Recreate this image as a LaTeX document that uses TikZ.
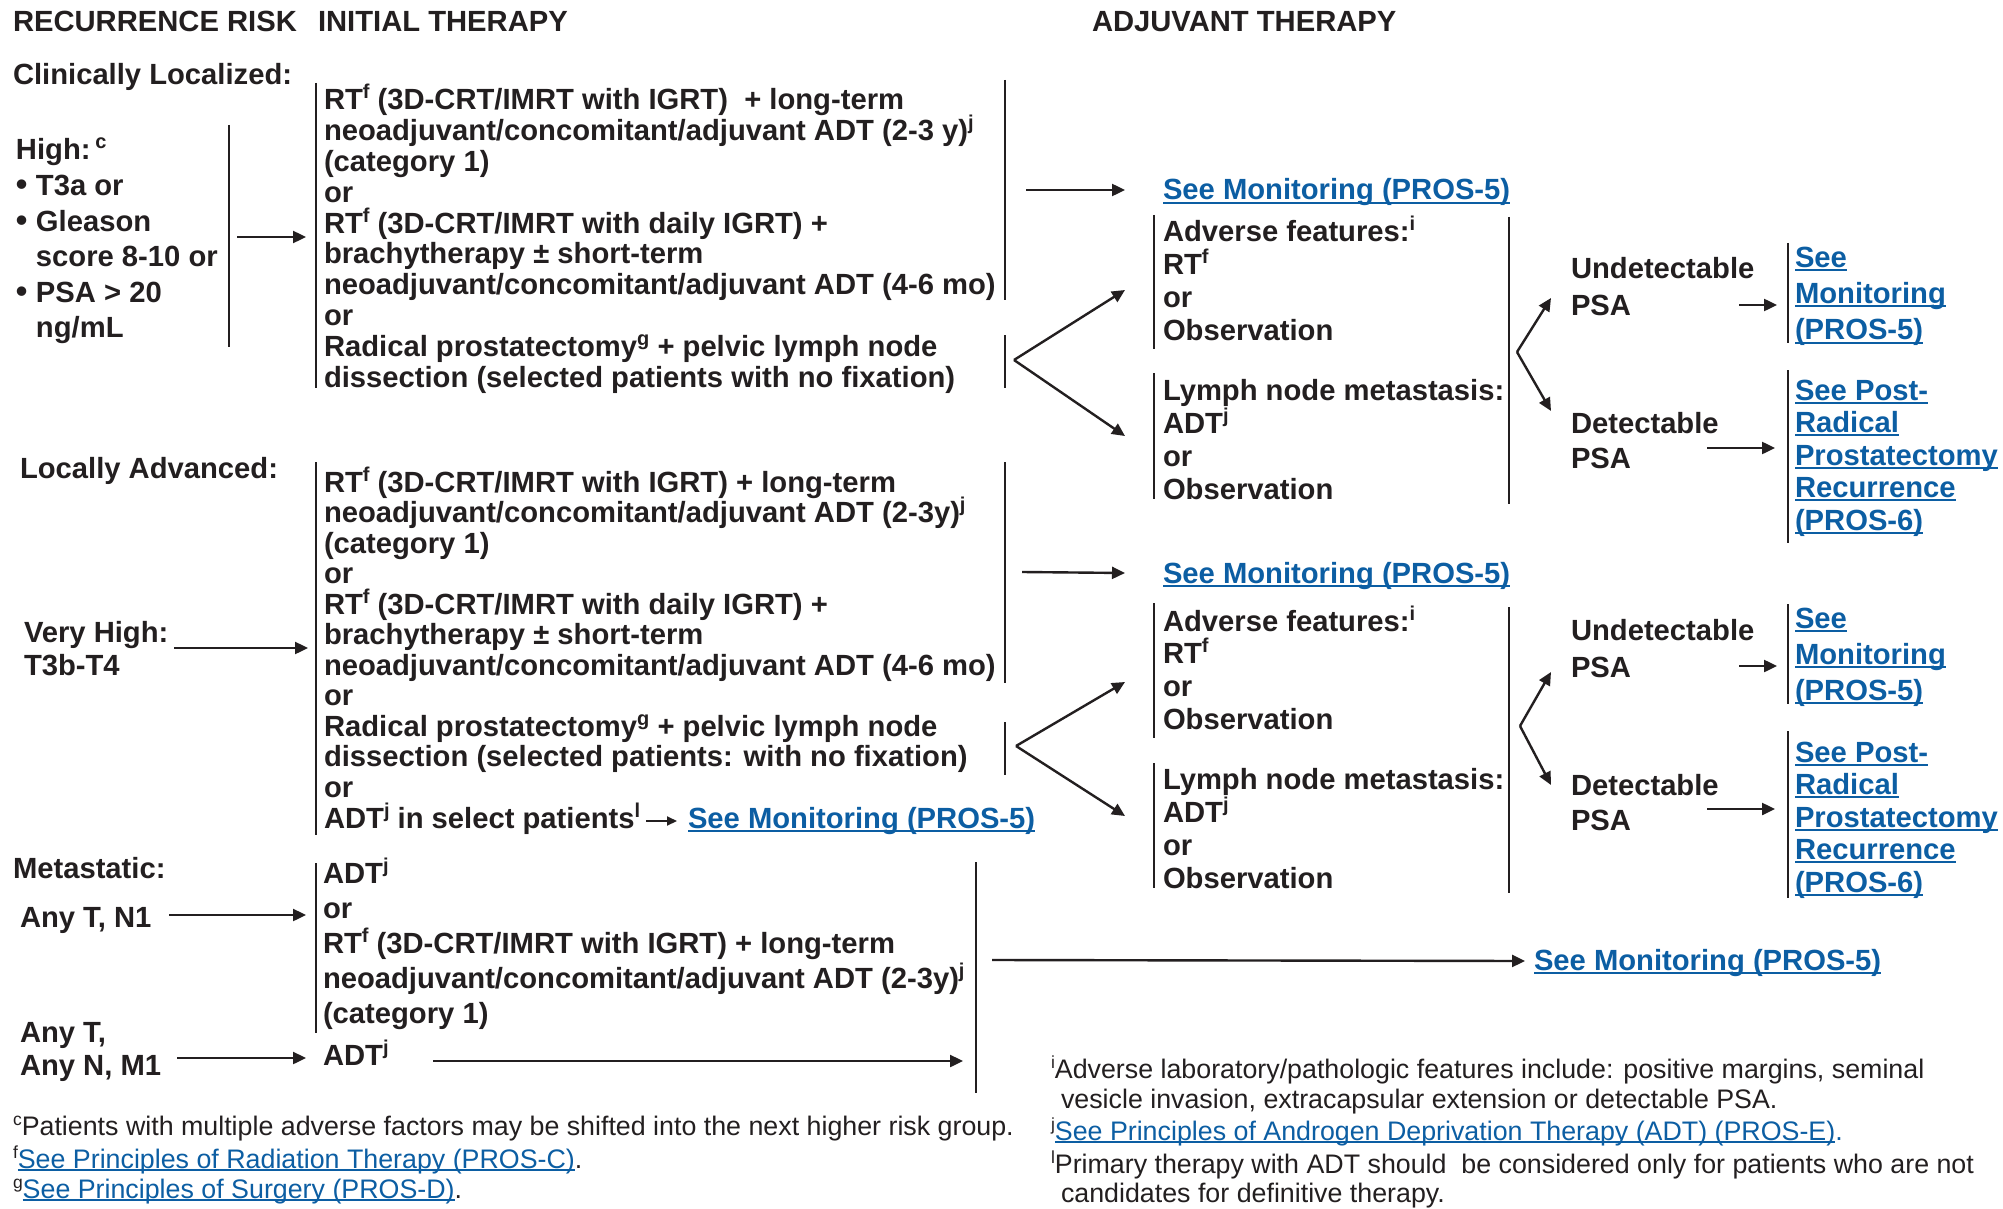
\documentclass[tikz,border=0pt]{standalone}
\usepackage{fontspec}
\setmainfont{Liberation Sans}
\usetikzlibrary{arrows.meta}

\definecolor{ink}{HTML}{231F20}
\definecolor{linkblue}{RGB}{12,94,163}

% raised markers: bold text and footnote text
\newcommand\supx[1]{\raisebox{11pt}{\fontsize{20}{20}\selectfont #1}}
\newcommand\supn[1]{\raisebox{10pt}{\fontsize{17.5}{17.5}\selectfont #1}}
% blue underlined cross reference
\newcommand\lnk[1]{{\color{linkblue}\setbox0=\hbox{#1}\rlap{\rule[-0.12em]{\wd0}{0.065em}}\box0}}
% stacked lines with a fixed baseline distance; baseline = first line
\newcommand\rows[2]{\vtop{\baselineskip=#1\lineskiplimit=-\maxdimen\lineskip=0pt\relax #2}}
\newcommand\bul{\makebox[20pt][l]{\fontsize{33}{33}\selectfont\textbullet}}

\tikzset{
  txt/.style={anchor=base west, inner sep=0pt, outer sep=0pt, text=ink,
              font=\fontsize{29.2}{31}\selectfont\bfseries},
  note/.style={anchor=base west, inner sep=0pt, outer sep=0pt, text=ink,
              font=\fontsize{26.8}{31}\selectfont},
  bar/.style={draw=ink, line width=2pt},
  arr/.style={draw=ink, line width=2.4pt, -{Triangle[length=13pt,width=12pt]}},
  arrsmall/.style={draw=ink, line width=2pt, -{Triangle[length=10pt,width=9pt]}},
}

\begin{document}
\begin{tikzpicture}[x=1pt,y=-1pt]
\useasboundingbox (0,0) rectangle (2003,1209);
\fill[white] (0,0) rectangle (2003,1209);

% ---------- column headings ----------
\node[txt] (hRisk) at (13,32) {RECURRENCE RISK};
\node[txt] (hInit) at (318,32) {INITIAL THERAPY};
\node[txt] (hAdj) at (1092,32) {ADJUVANT THERAPY};

% ---------- risk groups ----------
\node[txt] (cLoc) at (13,85) {Clinically Localized:};
\node[txt] (high) at (16,160) {\rows{35.6pt}{%
  \hbox{High:\,\supx{c}}
  \hbox{\bul T3a or}
  \hbox{\bul Gleason}
  \hbox{\hspace{20pt}score 8-10 or}
  \hbox{\bul PSA > 20}
  \hbox{\hspace{20pt}ng/mL}}};

\node[txt] (locAdv) at (20,478) {Locally Advanced:};
\node[txt] (vHigh) at (24,642) {\rows{33pt}{\hbox{Very High:}\hbox{T3b-T4}}};

\node[txt] (meta) at (13,878) {Metastatic:};
\node[txt] (anyN1) at (20,927) {Any T, N1};
\node[txt] (anyM1) at (20,1042) {\rows{33pt}{\hbox{Any T,}\hbox{Any N, M1}}};

% ---------- initial therapy ----------
\node[txt] (b1) at (324,110) {\rows{30.8pt}{%
  \hbox{RT\supx{f} (3D-CRT/IMRT with IGRT)\ \ + long-term}
  \hbox{neoadjuvant/concomitant/adjuvant ADT (2-3 y)\supx{j}}
  \hbox{(category 1)}
  \hbox{or}
  \hbox{RT\supx{f} (3D-CRT/IMRT with daily IGRT) +}
  \hbox{brachytherapy ± short-term}
  \hbox{neoadjuvant/concomitant/adjuvant ADT (4-6 mo)}
  \hbox{or}
  \hbox{Radical prostatectomy\supx{g} + pelvic lymph node}
  \hbox{dissection (selected patients with no fixation)}}};

\node[txt] (b2) at (324,492) {\rows{30.55pt}{%
  \hbox{RT\supx{f} (3D-CRT/IMRT with IGRT) + long-term}
  \hbox{neoadjuvant/concomitant/adjuvant ADT (2-3y)\supx{j}}
  \hbox{(category 1)}
  \hbox{or}
  \hbox{RT\supx{f} (3D-CRT/IMRT with daily IGRT) +}
  \hbox{brachytherapy ± short-term}
  \hbox{neoadjuvant/concomitant/adjuvant ADT (4-6 mo)}
  \hbox{or}
  \hbox{Radical prostatectomy\supx{g} + pelvic lymph node}
  \hbox{dissection (selected patients: with no fixation)}
  \hbox{or}}};
\node[txt] (b2adt) at (324,828) {ADT\supx{j} in select patients\supx{l}};
\node[txt] (b2mon) at (688,828) {\lnk{See Monitoring (PROS-5)}};

\node[txt] (b3) at (323,883) {\rows{35pt}{%
  \hbox{ADT\supx{j}}
  \hbox{or}
  \hbox{RT\supx{f} (3D-CRT/IMRT with IGRT) + long-term}
  \hbox{neoadjuvant/concomitant/adjuvant ADT (2-3y)\supx{j}}
  \hbox{(category 1)}}};
\node[txt] (b3adt) at (323,1065) {ADT\supx{j}};

% ---------- adjuvant therapy, localized ----------
\node[txt] (mon1) at (1163,200) {\lnk{See Monitoring (PROS-5)}};
\node[txt] (adv1) at (1163,242) {\rows{32.7pt}{%
  \hbox{Adverse features:\supx{i}}\hbox{RT\supx{f}}\hbox{or}\hbox{Observation}}};
\node[txt] (lnm1) at (1163,400) {\rows{33.3pt}{%
  \hbox{Lymph node metastasis:}\hbox{ADT\supx{j}}\hbox{or}\hbox{Observation}}};
\node[txt] (und1) at (1571,278) {\rows{37pt}{\hbox{Undetectable}\hbox{PSA}}};
\node[txt] (det1) at (1571,433) {\rows{35pt}{\hbox{Detectable}\hbox{PSA}}};
\node[txt] (see1) at (1795,267) {\rows{36.5pt}{%
  \hbox{\lnk{See}}\hbox{\lnk{Monitoring}}\hbox{\lnk{(PROS-5)}}}};
\node[txt] (post1) at (1795,400) {\rows{32.5pt}{%
  \hbox{\lnk{See Post-}}\hbox{\lnk{Radical}}\hbox{\lnk{Prostatectomy}}
  \hbox{\lnk{Recurrence}}\hbox{\lnk{(PROS-6)}}}};

% ---------- adjuvant therapy, locally advanced ----------
\node[txt] (mon2) at (1163,583) {\lnk{See Monitoring (PROS-5)}};
\node[txt] (adv2) at (1163,631) {\rows{32.7pt}{%
  \hbox{Adverse features:\supx{i}}\hbox{RT\supx{f}}\hbox{or}\hbox{Observation}}};
\node[txt] (lnm2) at (1163,789) {\rows{33.3pt}{%
  \hbox{Lymph node metastasis:}\hbox{ADT\supx{j}}\hbox{or}\hbox{Observation}}};
\node[txt] (und2) at (1571,640) {\rows{37pt}{\hbox{Undetectable}\hbox{PSA}}};
\node[txt] (det2) at (1571,795) {\rows{35pt}{\hbox{Detectable}\hbox{PSA}}};
\node[txt] (see2) at (1795,628) {\rows{36pt}{%
  \hbox{\lnk{See}}\hbox{\lnk{Monitoring}}\hbox{\lnk{(PROS-5)}}}};
\node[txt] (post2) at (1795,762) {\rows{32.5pt}{%
  \hbox{\lnk{See Post-}}\hbox{\lnk{Radical}}\hbox{\lnk{Prostatectomy}}
  \hbox{\lnk{Recurrence}}\hbox{\lnk{(PROS-6)}}}};

% ---------- metastatic follow-up ----------
\node[txt] (mon3) at (1534,970) {\lnk{See Monitoring (PROS-5)}};

% ---------- brackets ----------
\draw[bar] (229,125) -- (229,347);
\draw[bar] (315.5,83) -- (315.5,388);
\draw[bar] (1005,80) -- (1005,300);
\draw[bar] (1005,335) -- (1005,388);
\draw[bar] (1154,215) -- (1154,349);
\draw[bar] (1154,373) -- (1154,499);
\draw[bar] (1509,217) -- (1509,504);
\draw[bar] (1788,243) -- (1788,343);
\draw[bar] (1788,370) -- (1788,543);

\draw[bar] (316,462) -- (316,835);
\draw[bar] (1005,462) -- (1005,683);
\draw[bar] (1005,722) -- (1005,775);
\draw[bar] (1154,603) -- (1154,738);
\draw[bar] (1154,763) -- (1154,888);
\draw[bar] (1509,607) -- (1509,893);
\draw[bar] (1788,604) -- (1788,704);
\draw[bar] (1788,731) -- (1788,898);

\draw[bar] (316,863) -- (316,1033);
\draw[bar] (976,862) -- (976,1093);

% ---------- connector end points ----------
\coordinate (hiA) at (237,237);   \coordinate (hiB) at (306,237);
\coordinate (m1A) at (1026,190);  \coordinate (m1B) at (1125,190);
\coordinate (v1) at (1014,360);   \coordinate (v1u) at (1125,290); \coordinate (v1d) at (1125,436);
\coordinate (v2) at (1517,352);   \coordinate (v2u) at (1551,298); \coordinate (v2d) at (1551,411);
\coordinate (u1A) at (1739,305);  \coordinate (u1B) at (1777,305);
\coordinate (d1A) at (1707,448);  \coordinate (d1B) at (1775,448);

\coordinate (vhA) at (174,648);   \coordinate (vhB) at (308,648);
\coordinate (m2A) at (1022,572);  \coordinate (m2B) at (1125,573);
\coordinate (v3) at (1016,746);   \coordinate (v3u) at (1125,682); \coordinate (v3d) at (1125,816);
\coordinate (v4) at (1520,726);   \coordinate (v4u) at (1551,672); \coordinate (v4d) at (1551,785);
\coordinate (u2A) at (1739,666);  \coordinate (u2B) at (1777,666);
\coordinate (d2A) at (1707,809);  \coordinate (d2B) at (1775,809);
\coordinate (saA) at (646,821);   \coordinate (saB) at (677,821);

\coordinate (n1A) at (169,915);   \coordinate (n1B) at (306,915);
\coordinate (mxA) at (177,1058);  \coordinate (mxB) at (306,1058);
\coordinate (adA) at (433,1061);  \coordinate (adB) at (963,1061);
\coordinate (m3A) at (992,960);   \coordinate (m3B) at (1525,961);

% ---------- connectors ----------
\draw[arr] (hiA) -- (hiB);
\draw[arr] (m1A) -- (m1B);
\draw[arr] (v1) -- (v1u);
\draw[arr] (v1) -- (v1d);
\draw[arr] (v2) -- (v2u);
\draw[arr] (v2) -- (v2d);
\draw[arr] (u1A) -- (u1B);
\draw[arr] (d1A) -- (d1B);

\draw[arr] (vhA) -- (vhB);
\draw[arr] (m2A) -- (m2B);
\draw[arr] (v3) -- (v3u);
\draw[arr] (v3) -- (v3d);
\draw[arr] (v4) -- (v4u);
\draw[arr] (v4) -- (v4d);
\draw[arr] (u2A) -- (u2B);
\draw[arr] (d2A) -- (d2B);
\draw[arrsmall] (saA) -- (saB);

\draw[arr] (n1A) -- (n1B);
\draw[arr] (mxA) -- (mxB);
\draw[arr] (adA) -- (adB);
\draw[arr] (m3A) -- (m3B);

% ---------- footnotes ----------
\node[note] (fnC) at (13,1135) {\supn{c}Patients with multiple adverse factors may be shifted into the next higher risk group.};
\node[note] (fnF) at (13,1168) {\supn{f}\lnk{See Principles of Radiation Therapy (PROS-C)}.};
\node[note] (fnG) at (13,1198) {\supn{g}\lnk{See Principles of Surgery (PROS-D)}.};

\node[note] (fnI) at (1051,1078) {\rows{30pt}{%
  \hbox{\supn{i}Adverse laboratory/pathologic features include: positive margins, seminal}
  \hbox{\hspace{10pt}vesicle invasion, extracapsular extension or detectable PSA.}}};
\node[note] (fnJ) at (1051,1140) {\supn{j}\lnk{See Principles of Androgen Deprivation Therapy (ADT) (PROS-E)}{\color{linkblue}.}};
\node[note] (fnL) at (1051,1173) {\rows{29pt}{%
  \hbox{\supn{l}Primary therapy with ADT should\ \ be considered only for patients who are not}
  \hbox{\hspace{10pt}candidates for definitive therapy.}}};
\end{tikzpicture}
\end{document}
